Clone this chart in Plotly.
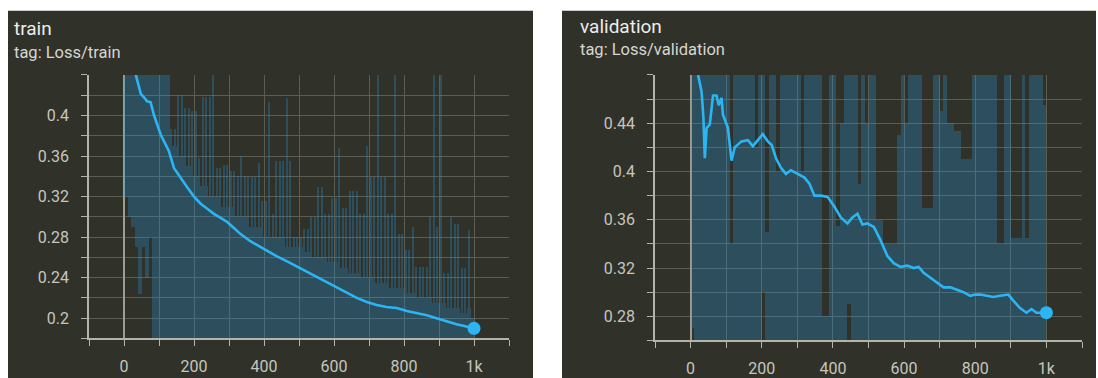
import plotly.graph_objects as go

# ---------------- data ----------------
# smoothed curves: steps and values
train_steps = [30, 48, 57, 66, 76, 86, 105, 128, 143, 162, 181, 200, 219, 238, 257, 276, 295,
               314, 333, 361, 390, 414, 437, 466, 494, 522, 551, 580, 608, 636, 665, 694,
               722, 750, 779, 808, 836, 865, 893, 921, 950, 975, 1000]
train_smooth = [0.445, 0.4215, 0.418, 0.414, 0.413, 0.400, 0.381, 0.365, 0.348, 0.338, 0.329,
                0.320, 0.313, 0.308, 0.303, 0.299, 0.295, 0.289, 0.283, 0.276, 0.270, 0.265,
                0.261, 0.256, 0.251, 0.246, 0.241, 0.235, 0.230, 0.225, 0.220, 0.216,
                0.213, 0.211, 0.210, 0.207, 0.205, 0.203, 0.200, 0.197, 0.194, 0.192, 0.190]

val_steps = [21, 31, 36, 40, 45, 54, 63, 73, 79, 87, 91, 105, 115, 124, 143, 161, 175, 189,
             203, 217, 228, 240, 254, 268, 282, 301, 320, 334, 348, 366, 385, 404, 422, 441,
             455, 469, 483, 497, 515, 534, 553, 571, 590, 609, 627, 641, 655, 674, 692, 711,
             730, 748, 767, 786, 800, 814, 832, 851, 870, 893, 907, 925, 944, 958, 972, 986, 1000]
val_smooth = [0.48, 0.466, 0.445, 0.411, 0.436, 0.439, 0.463, 0.463, 0.455, 0.461, 0.447,
              0.436, 0.409, 0.420, 0.425, 0.426, 0.421, 0.426, 0.431, 0.425, 0.422, 0.411,
              0.403, 0.398, 0.401, 0.398, 0.395, 0.390, 0.380, 0.380, 0.379, 0.371, 0.362,
              0.357, 0.362, 0.365, 0.356, 0.357, 0.354, 0.343, 0.330, 0.324, 0.321, 0.322,
              0.320, 0.321, 0.316, 0.312, 0.308, 0.304, 0.304, 0.302, 0.300, 0.297, 0.298,
              0.298, 0.297, 0.296, 0.297, 0.298, 0.293, 0.287, 0.283, 0.286, 0.283, 0.283, 0.283]

# raw (unsmoothed) curves, per 10-step bin:
#   *_lo   : lowest raw value seen in the bin
#   *_body : top of the dense (solid-looking) part of the raw band
#   *_hi   : highest raw spike in the bin
raw_bins = list(range(5, 1000, 10))

train_raw_hi = [
    0.45, 0.45, 0.45, 0.45, 0.45, 0.45, 0.45, 0.45, 0.45, 0.45,
    0.45, 0.45, 0.45, 0.387, 0.387, 0.42, 0.42, 0.407, 0.407, 0.404,
    0.404, 0.358, 0.418, 0.418, 0.418, 0.45, 0.348, 0.348, 0.351, 0.351,
    0.345, 0.345, 0.34, 0.36, 0.34, 0.339, 0.339, 0.339, 0.353, 0.316,
    0.316, 0.413, 0.303, 0.355, 0.355, 0.355, 0.417, 0.355, 0.28, 0.28,
    0.28, 0.288, 0.288, 0.30, 0.30, 0.329, 0.329, 0.303, 0.303, 0.319,
    0.319, 0.368, 0.309, 0.309, 0.326, 0.326, 0.326, 0.303, 0.303, 0.37,
    0.339, 0.339, 0.45, 0.339, 0.339, 0.303, 0.303, 0.45, 0.283, 0.283,
    0.267, 0.267, 0.29, 0.251, 0.251, 0.251, 0.251, 0.30, 0.45, 0.29,
    0.45, 0.245, 0.245, 0.30, 0.293, 0.293, 0.25, 0.25, 0.287, 0.20,
]
train_raw_body = [
    0.45, 0.45, 0.45, 0.45, 0.45, 0.45, 0.45, 0.45, 0.45, 0.45,
    0.45, 0.45, 0.45, 0.37, 0.37, 0.36, 0.36, 0.35, 0.35, 0.34,
    0.34, 0.33, 0.33, 0.33, 0.32, 0.32, 0.32, 0.31, 0.31, 0.31,
    0.31, 0.30, 0.30, 0.30, 0.30, 0.29, 0.29, 0.29, 0.29, 0.28,
    0.28, 0.28, 0.28, 0.28, 0.28, 0.28, 0.27, 0.27, 0.27, 0.27,
    0.27, 0.265, 0.265, 0.26, 0.26, 0.26, 0.26, 0.26, 0.255, 0.255,
    0.255, 0.25, 0.25, 0.25, 0.245, 0.245, 0.245, 0.24, 0.24, 0.24,
    0.24, 0.235, 0.235, 0.235, 0.235, 0.23, 0.23, 0.23, 0.23, 0.23,
    0.225, 0.225, 0.225, 0.22, 0.22, 0.22, 0.22, 0.22, 0.215, 0.215,
    0.215, 0.215, 0.21, 0.21, 0.21, 0.21, 0.205, 0.205, 0.21, 0.20,
]
train_raw_lo = [
    0.32, 0.30, 0.29, 0.27, 0.224, 0.27, 0.24, 0.28, 0.17, 0.17,
    0.17, 0.17, 0.17, 0.17, 0.17, 0.17, 0.17, 0.17, 0.17, 0.17,
    0.17, 0.17, 0.17, 0.17, 0.17, 0.17, 0.17, 0.17, 0.17, 0.17,
    0.17, 0.17, 0.17, 0.17, 0.17, 0.17, 0.17, 0.17, 0.17, 0.17,
    0.17, 0.17, 0.17, 0.17, 0.17, 0.17, 0.17, 0.17, 0.17, 0.17,
    0.17, 0.17, 0.17, 0.17, 0.17, 0.17, 0.17, 0.17, 0.17, 0.17,
    0.17, 0.17, 0.17, 0.17, 0.17, 0.17, 0.17, 0.17, 0.17, 0.17,
    0.17, 0.17, 0.17, 0.17, 0.17, 0.17, 0.17, 0.17, 0.17, 0.17,
    0.17, 0.17, 0.17, 0.17, 0.17, 0.17, 0.17, 0.17, 0.17, 0.17,
    0.17, 0.17, 0.17, 0.17, 0.17, 0.17, 0.17, 0.17, 0.17, 0.17,
]

val_raw_hi = [
    0.49, 0.49, 0.49, 0.49, 0.49, 0.49, 0.49, 0.49, 0.49, 0.49,
    0.49, 0.34, 0.49, 0.49, 0.49, 0.49, 0.49, 0.49, 0.42, 0.49,
    0.49, 0.35, 0.49, 0.49, 0.40, 0.49, 0.49, 0.49, 0.49, 0.49,
    0.49, 0.40, 0.49, 0.49, 0.49, 0.49, 0.49, 0.28, 0.28, 0.49,
    0.49, 0.355, 0.44, 0.49, 0.49, 0.49, 0.49, 0.39, 0.49, 0.44,
    0.49, 0.49, 0.36, 0.36, 0.34, 0.34, 0.34, 0.34, 0.43, 0.49,
    0.44, 0.49, 0.49, 0.49, 0.49, 0.37, 0.37, 0.37, 0.49, 0.49,
    0.45, 0.49, 0.44, 0.44, 0.434, 0.434, 0.41, 0.41, 0.41, 0.49,
    0.49, 0.49, 0.49, 0.49, 0.49, 0.49, 0.34, 0.34, 0.49, 0.49,
    0.345, 0.345, 0.345, 0.49, 0.345, 0.49, 0.49, 0.49, 0.49, 0.455,
]
val_raw_lo = [
    0.27, 0.25, 0.25, 0.25, 0.25, 0.25, 0.25, 0.25, 0.25, 0.25,
    0.25, 0.25, 0.25, 0.25, 0.25, 0.25, 0.25, 0.25, 0.25, 0.25,
    0.30, 0.25, 0.25, 0.25, 0.25, 0.25, 0.25, 0.25, 0.25, 0.25,
    0.25, 0.25, 0.25, 0.25, 0.25, 0.25, 0.25, 0.25, 0.25, 0.25,
    0.25, 0.25, 0.25, 0.25, 0.29, 0.25, 0.25, 0.25, 0.25, 0.25,
    0.25, 0.25, 0.25, 0.25, 0.25, 0.25, 0.25, 0.25, 0.25, 0.25,
    0.25, 0.25, 0.25, 0.25, 0.25, 0.25, 0.25, 0.25, 0.25, 0.25,
    0.25, 0.25, 0.25, 0.25, 0.25, 0.25, 0.25, 0.25, 0.25, 0.25,
    0.25, 0.25, 0.25, 0.25, 0.25, 0.25, 0.25, 0.25, 0.25, 0.25,
    0.25, 0.25, 0.25, 0.25, 0.25, 0.25, 0.25, 0.25, 0.25, 0.25,
]

x_tick_vals = [0, 200, 400, 600, 800, 1000]
x_tick_text = ["0", "200", "400", "600", "800", "1k"]
train_y_ticks = [0.2, 0.24, 0.28, 0.32, 0.36, 0.4]
train_y_text = ["0.2", "0.24", "0.28", "0.32", "0.36", "0.4"]
val_y_ticks = [0.28, 0.32, 0.36, 0.4, 0.44]
val_y_text = ["0.28", "0.32", "0.36", "0.4", "0.44"]
train_grid = [0.18, 0.20, 0.22, 0.24, 0.26, 0.28, 0.30, 0.32, 0.34, 0.36, 0.38, 0.40, 0.42, 0.44]
val_grid = [0.26, 0.28, 0.30, 0.32, 0.34, 0.36, 0.38, 0.40, 0.42, 0.44, 0.46, 0.48]

panels = [
    dict(title="train", tag="tag: Loss/train", steps=train_steps, smooth=train_smooth,
         hi=train_raw_hi, body=train_raw_body, lo=train_raw_lo, yrange=[0.18, 0.44],
         yt=train_y_ticks, ytt=train_y_text, grid=train_grid),
    dict(title="validation", tag="tag: Loss/validation", steps=val_steps, smooth=val_smooth,
         hi=val_raw_hi, body=None, lo=val_raw_lo, yrange=[0.26, 0.48],
         yt=val_y_ticks, ytt=val_y_text, grid=val_grid),
]

# ---------------- styling ----------------
W, H = 1098, 378
BG = "#303129"
GRID = "#5b5c52"
AXIS = "#b4b4aa"
LINE = "#2cb5f2"
FILL = "rgba(40,150,215,0.30)"
TICKFONT = dict(family="Roboto", size=16, color="#c6c6be")

# pixel geometry
panel_px = [(8, 533), (562, 1096)]
plot_x_px = [(89, 509), (655, 1082)]
plot_y_px = [(76, 343), (76, 345)]
title_y_px = [(29, 53), (27, 50)]
title_x_px = [12, 578]

fig = go.Figure()

for i, p in enumerate(panels):
    xa = "x" if i == 0 else "x2"
    ya = "y" if i == 0 else "y2"
    top = p["body"] if p["body"] is not None else p["hi"]
    heights = [t - l for t, l in zip(top, p["lo"])]
    fig.add_trace(go.Bar(x=raw_bins, y=heights, base=p["lo"], width=10,
                         marker=dict(color=FILL, line=dict(width=0)),
                         xaxis=xa, yaxis=ya, showlegend=False, hoverinfo="skip"))
    if p["body"] is not None:
        spikes = [h - b for h, b in zip(p["hi"], p["body"])]
        fig.add_trace(go.Bar(x=raw_bins, y=spikes, base=p["body"], width=6,
                             marker=dict(color=FILL, line=dict(width=0)),
                             xaxis=xa, yaxis=ya, showlegend=False, hoverinfo="skip"))
    fig.add_trace(go.Scatter(x=p["steps"], y=p["smooth"], mode="lines",
                             line=dict(color=LINE, width=2.6),
                             xaxis=xa, yaxis=ya, showlegend=False))
    fig.add_trace(go.Scatter(x=p["steps"][-1:], y=p["smooth"][-1:], mode="markers",
                             marker=dict(color=LINE, size=13),
                             xaxis=xa, yaxis=ya, showlegend=False, cliponaxis=False))

    # panel background
    fig.add_shape(type="rect", xref="paper", yref="paper", layer="below",
                  x0=panel_px[i][0] / W, x1=panel_px[i][1] / W, y0=-0.05, y1=1 - 11 / H,
                  fillcolor=BG, line=dict(width=0))
    fig.add_annotation(text=p["title"], xref="paper", yref="paper", showarrow=False,
                       x=title_x_px[i] / W, y=1 - title_y_px[i][0] / H, xanchor="left",
                       yanchor="middle", font=dict(family="Roboto", size=19, color="#ececec"))
    fig.add_annotation(text=p["tag"], xref="paper", yref="paper", showarrow=False,
                       x=title_x_px[i] / W, y=1 - title_y_px[i][1] / H, xanchor="left",
                       yanchor="middle", font=dict(family="Roboto", size=16.5, color="#d6d6d2"))

    xdom = [plot_x_px[i][0] / W, plot_x_px[i][1] / W]
    ydom = [1 - plot_y_px[i][1] / H, 1 - plot_y_px[i][0] / H]
    xkey = "xaxis" if i == 0 else "xaxis2"
    ykey = "yaxis" if i == 0 else "yaxis2"
    fig.update_layout(**{
        xkey: dict(domain=xdom, range=[-100, 1100], anchor=ya, tickmode="array",
                   tickvals=x_tick_vals, ticktext=x_tick_text, ticks="outside", ticklen=6,
                   tickcolor=AXIS, showline=True, linecolor=AXIS, linewidth=1.5,
                   showgrid=True, gridcolor=GRID, gridwidth=1, zeroline=True,
                   zerolinecolor="#9d9d95", zerolinewidth=1.5, tickfont=TICKFONT,
                   ticklabelstandoff=7,
                   minor=dict(tickmode="linear", tick0=0, dtick=100, ticks="outside",
                              ticklen=6, tickcolor=AXIS, showgrid=True, gridcolor=GRID)),
        ykey: dict(domain=ydom, range=p["yrange"], anchor=xa, tickmode="array",
                   tickvals=p["yt"], ticktext=p["ytt"], ticks="outside", ticklen=6,
                   tickcolor=AXIS, showline=True, linecolor=AXIS, linewidth=1.5,
                   showgrid=True, gridcolor=GRID, gridwidth=1, zeroline=False,
                   tickfont=TICKFONT, ticklabelstandoff=9,
                   minor=dict(tickmode="array", tickvals=p["grid"], ticks="outside",
                              ticklen=6, tickcolor=AXIS, showgrid=True, gridcolor=GRID)),
    })

fig.update_layout(width=W, height=H, margin=dict(l=0, r=0, t=0, b=0),
                  paper_bgcolor="white", plot_bgcolor="rgba(0,0,0,0)",
                  bargap=0, barmode="overlay", showlegend=False)

fig.write_html("out.html", config={"displayModeBar": False})
